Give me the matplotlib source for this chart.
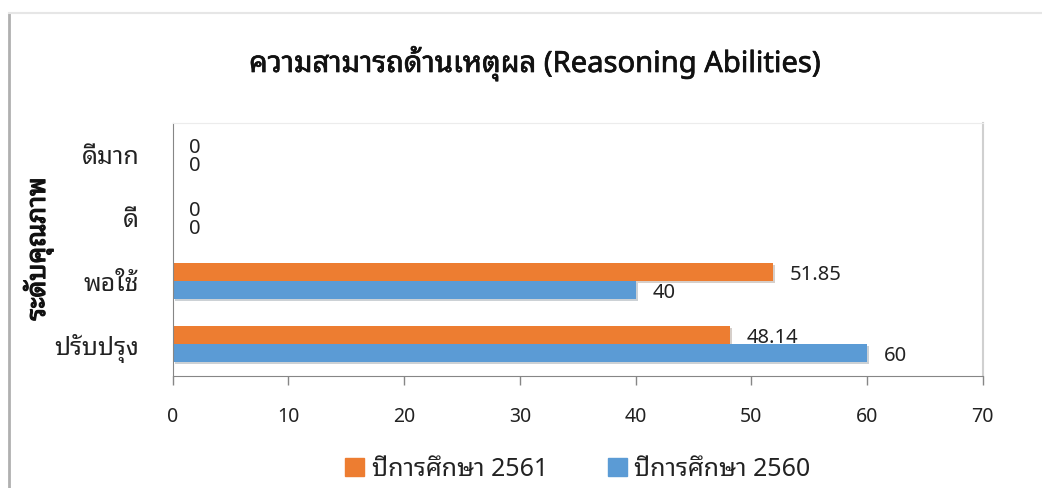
import matplotlib
matplotlib.use("Agg")
import matplotlib.pyplot as plt
import matplotlib.patheffects as pe
from matplotlib.lines import Line2D
from matplotlib.patches import Patch
import numpy as np

plt.rcParams['font.family'] = ['Noto Sans Thai Looped', 'DejaVu Sans']

# data
categories = ['ปรับปรุง', 'พอใช้', 'ดี', 'ดีมาก']
y2561 = [48.14, 51.85, 0, 0]
y2560 = [60, 40, 0, 0]
labels2561 = ['48.14', '51.85', '0', '0']
labels2560 = ['60', '40', '0', '0']
title = 'ความสามารถด้านเหตุผล (Reasoning Abilities)'
ylabel = 'ระดับคุณภาพ'
leg2561 = 'ปีการศึกษา 2561'
leg2560 = 'ปีการศึกษา 2560'

c_orange = '#ED7D31'
c_blue = '#5B9BD5'

W, H = 1042, 488
fig = plt.figure(figsize=(W / 100, H / 100), dpi=100)

# outer chart frame
fig.add_artist(Line2D([9 / W, 9 / W], [0, 1 - 13 / H], color='#b0b0b0', lw=2.0))
fig.add_artist(Line2D([9 / W, 1], [1 - 13 / H, 1 - 13 / H], color='#e6e6e6', lw=1.5))

ax = fig.add_axes([172.7 / W, (H - 376) / H, 810 / W, 253.3 / H])

y = np.arange(len(categories))
h = 0.284
shadow = [pe.SimplePatchShadow(offset=(1.5, -1.5), alpha=0.22), pe.Normal()]
b1 = ax.barh(y + h / 2, y2561, height=h, color=c_orange, path_effects=shadow)
b2 = ax.barh(y - h / 2, y2560, height=h, color=c_blue, path_effects=shadow)

for bars, labs in ((b1, labels2561), (b2, labels2560)):
    for bar, lab in zip(bars, labs):
        ax.annotate(lab, (bar.get_width(), bar.get_y() + bar.get_height() / 2),
                    xytext=(12, -2), textcoords='offset points',
                    ha='left', va='center', fontsize=14.5, color='#222222')

ax.set_xlim(0, 70)
ax.set_ylim(-0.5, len(categories) - 0.5)
ax.set_xticks(np.arange(0, 71, 10))
ax.set_yticks(y)
ax.set_yticklabels(categories)
ax.tick_params(axis='x', length=6.5, width=1, color='#868686', pad=16, labelsize=14, labelcolor='#222222')
ax.tick_params(axis='y', length=0, pad=24, labelsize=18, labelcolor='#222222')

ax.spines['left'].set_color('#868686')
ax.spines['bottom'].set_color('#868686')
ax.spines['top'].set_color('#ececec')
ax.spines['right'].set_color('#d0d0d0')
ax.spines['right'].set_linewidth(1.5)

fig.text(535 / W, 1 - 63 / H, title, ha='center', va='center', fontsize=21,
         color='#111111', path_effects=[pe.withStroke(linewidth=0.5, foreground='#111111')])
fig.text(38 / W, 1 - 249 / H, ylabel, ha='center', va='center', rotation=90, fontsize=19,
         color='#111111', path_effects=[pe.withStroke(linewidth=0.9, foreground='#111111')])

handles = [Patch(color=c_orange), Patch(color=c_blue)]
fig.legend(handles, [leg2561, leg2560], loc='center', bbox_to_anchor=(578 / W, 1 - 469 / H),
           ncol=2, frameon=False, fontsize=18, handlelength=0.76, handleheight=0.76,
           handletextpad=0.3, columnspacing=2.4, labelcolor='#222222')

fig.savefig('out.png', dpi=100)
